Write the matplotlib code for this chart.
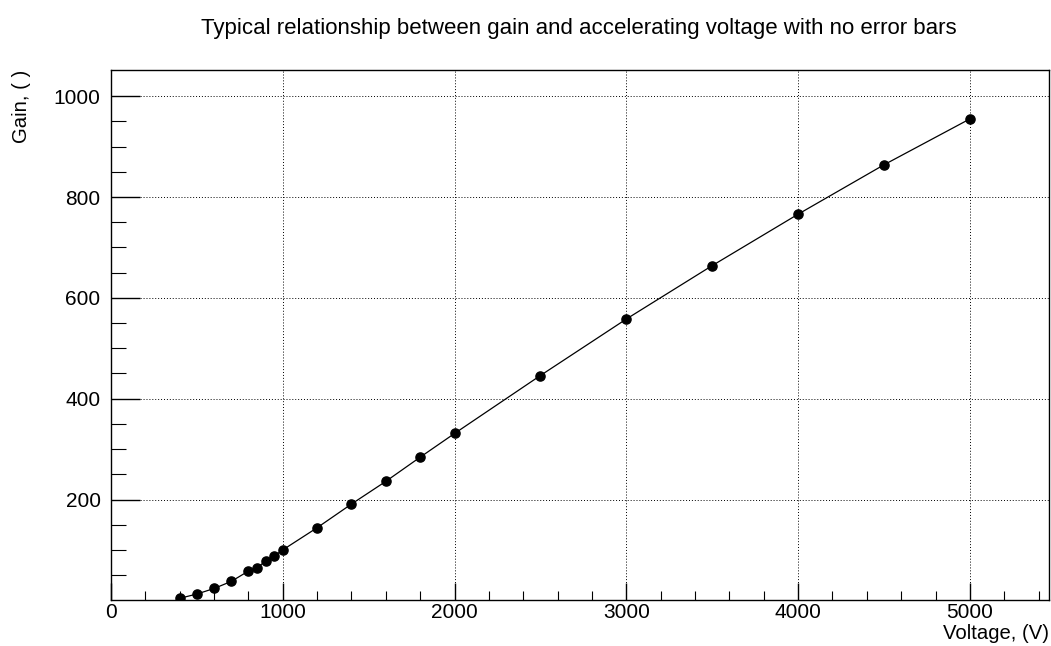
import numpy as np
import matplotlib
matplotlib.use("Agg")
from matplotlib import pyplot as plt
from matplotlib.ticker import MultipleLocator, FixedLocator

plt.rcParams["font.family"] = ["Liberation Sans", "DejaVu Sans"]

voltage = [400, 500, 600, 700, 800, 850, 900, 950, 1000, 1200, 1400, 1600,
           1800, 2000, 2500, 3000, 3500, 4000, 4500, 5000]
gain = [4, 12.5, 23.5, 37.5, 58, 65, 77.5, 88, 100, 144, 191, 236,
        284, 331, 446, 558, 664, 766, 864, 955]

title = "Typical relationship between gain and accelerating voltage with no error bars"

fig = plt.figure(figsize=(10.51, 6.46), dpi=100)
ax = fig.add_axes([0.1056, 0.0707, 0.8924, 0.8209])

ax.plot(voltage, gain, "k-", lw=0.9, marker="o", ms=6.6, mfc="k", mec="k")

ax.set_xlim(0, 5460)
ax.set_ylim(0, 1052)
ax.xaxis.set_major_locator(MultipleLocator(1000))
ax.xaxis.set_minor_locator(MultipleLocator(200))
ax.set_yticks([200, 400, 600, 800, 1000])
ax.yaxis.set_minor_locator(FixedLocator(np.arange(50, 1000, 50)))

ax.tick_params(axis="x", which="major", direction="in", length=12.5, width=1,
               labelsize=15, pad=2, top=False)
ax.tick_params(axis="x", which="minor", direction="in", length=6.3, width=0.8, top=False)
ax.tick_params(axis="y", which="major", direction="in", length=21, width=1,
               labelsize=15, pad=7.5, right=False)
ax.tick_params(axis="y", which="minor", direction="in", length=10.5, width=0.8, right=False)

ax.grid(True, which="major", color="k", ls=(0, (1, 2)), lw=0.7)
for s in ax.spines.values():
    s.set_linewidth(1)

fig.text(0.551, 1 - 34 / 646, title, ha="center", va="baseline", fontsize=16)
ax.set_xlabel("Voltage, (V)", fontsize=14.6, loc="right")
ax.xaxis.set_label_coords(1.0, -0.045)
ax.set_ylabel("Gain, ( )", fontsize=14.6, loc="top")
ax.yaxis.set_label_coords(-0.085, 1.0)

fig.savefig("out.png", dpi=100)
